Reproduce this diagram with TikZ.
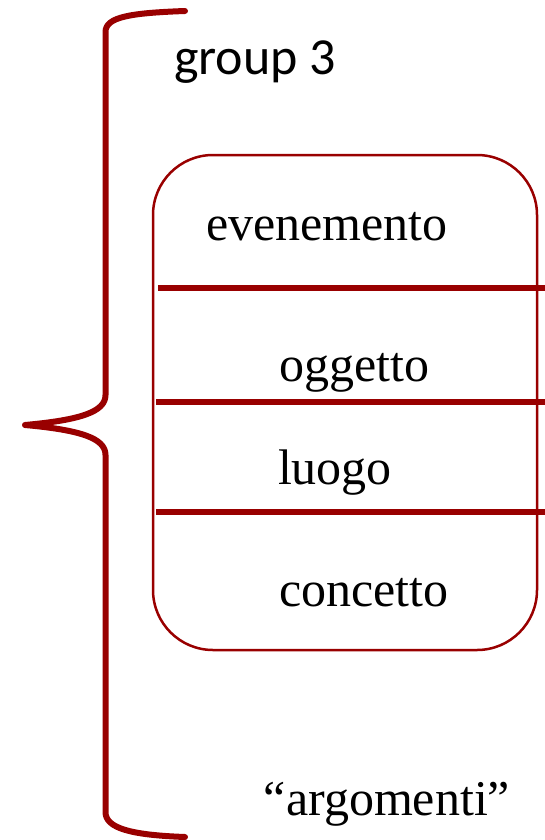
\documentclass[tikz,border=0pt]{standalone}
\usepackage{fontspec}
\setmainfont{Liberation Serif}
\newfontfamily\grpfont{Carlito}
\definecolor{darkred}{HTML}{990000}
\begin{document}
\begin{tikzpicture}[x=1pt,y=-1pt,
  bracestyle/.style={draw=darkred,line width=6pt,line cap=round,line join=round},
  boxstyle/.style={draw=darkred,line width=2.5pt,rounded corners=60pt},
  sepline/.style={draw=darkred,line width=5.5pt},
  item/.style={font=\fontsize{50}{60}\selectfont,inner sep=0pt,anchor=base}]
\useasboundingbox (0,0) rectangle (545,840);
% brace
\coordinate (btop) at (185,11);
\coordinate (btip) at (25,425);
\coordinate (bbot) at (185,837);
\draw[bracestyle] (btop) .. controls (130,13) and (105.5,17) .. (105.5,32) -- (105.5,395)
  .. controls (105.5,412) and (80,420) .. (btip)
  .. controls (80,430) and (105.5,438) .. (105.5,455) -- (105.5,812)
  .. controls (105.5,828) and (130,835) .. (bbot);
% box
\draw[boxstyle] (153,155) rectangle (537,650);
\coordinate (l1a) at (158,288); \coordinate (l1b) at (545,288);
\coordinate (l2a) at (156,402); \coordinate (l2b) at (545,402);
\coordinate (l3a) at (156,512); \coordinate (l3b) at (545,512);
\draw[sepline] (l1a) -- (l1b);
\draw[sepline] (l2a) -- (l2b);
\draw[sepline] (l3a) -- (l3b);
% texts
\node[font=\grpfont\fontsize{52}{62}\selectfont,inner sep=0pt,anchor=base] (grp) at (255,75) {group 3};
\node[item] (ev) at (327,240) {evenemento};
\node[item] (og) at (354,381) {oggetto};
\node[item] (lu) at (335,484) {luogo};
\node[item] (co) at (364,606) {concetto};
\node[item] (ar) at (387,815) {“argomenti”};
\end{tikzpicture}
\end{document}
